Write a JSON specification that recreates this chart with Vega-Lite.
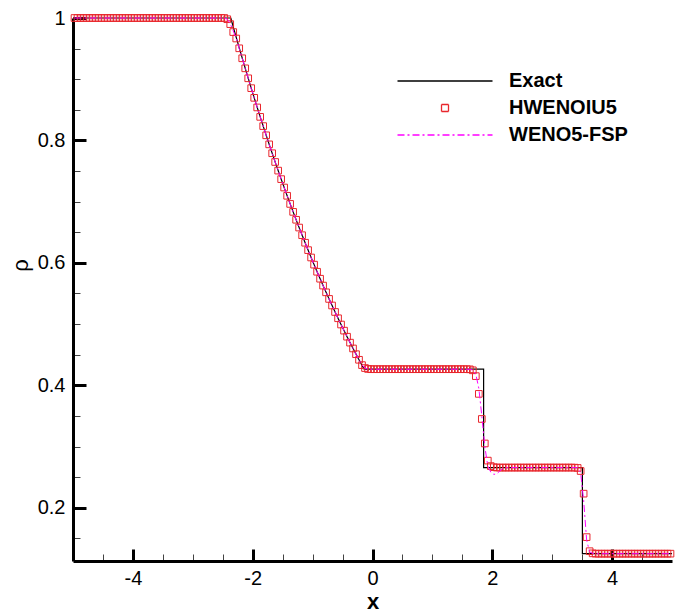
{
  "$schema": "https://vega.github.io/schema/vega-lite/v6.json",
  "width": 599,
  "height": 543,
  "autosize": {"type": "none"},
  "padding": {"left": 73, "top": 18, "right": 3, "bottom": 52},
  "background": "white",
  "config": {
    "view": {"stroke": null},
    "font": "Liberation Sans",
    "axis": {"grid": false, "domainColor": "black", "domainWidth": 3, "labelColor": "black", "titleColor": "black", "labelFont": "Liberation Sans", "titleFont": "Liberation Sans"},
    "legend": {"symbolSize": 100, "symbolStrokeWidth": 1.3, "labelFontSize": 20, "labelFontWeight": "bold", "labelFont": "Liberation Sans", "labelColor": "black", "rowPadding": 7, "labelOffset": 54, "padding": 0}
  },
  "datasets": {
    "exact": [
      {"i": 0, "x": -5, "rho": 1}, {"i": 1, "x": -2.366, "rho": 1}, {"i": 2, "x": -2.325, "rho": 0.9855},
      {"i": 3, "x": -2.225, "rho": 0.9512}, {"i": 4, "x": -2.125, "rho": 0.9179}, {"i": 5, "x": -2.025, "rho": 0.8854},
      {"i": 6, "x": -1.925, "rho": 0.8539}, {"i": 7, "x": -1.825, "rho": 0.8234}, {"i": 8, "x": -1.725, "rho": 0.7936},
      {"i": 9, "x": -1.625, "rho": 0.7648}, {"i": 10, "x": -1.525, "rho": 0.7368}, {"i": 11, "x": -1.425, "rho": 0.7096},
      {"i": 12, "x": -1.325, "rho": 0.6833}, {"i": 13, "x": -1.225, "rho": 0.6577}, {"i": 14, "x": -1.125, "rho": 0.6329},
      {"i": 15, "x": -1.025, "rho": 0.6088}, {"i": 16, "x": -0.925, "rho": 0.5855}, {"i": 17, "x": -0.825, "rho": 0.5629},
      {"i": 18, "x": -0.725, "rho": 0.5411}, {"i": 19, "x": -0.625, "rho": 0.5198}, {"i": 20, "x": -0.525, "rho": 0.4993},
      {"i": 21, "x": -0.425, "rho": 0.4794}, {"i": 22, "x": -0.325, "rho": 0.4602}, {"i": 23, "x": -0.225, "rho": 0.4416},
      {"i": 24, "x": -0.14, "rho": 0.4263}, {"i": 25, "x": 1.855, "rho": 0.4263}, {"i": 26, "x": 1.855, "rho": 0.2656},
      {"i": 27, "x": 3.504, "rho": 0.2656}, {"i": 28, "x": 3.504, "rho": 0.125}, {"i": 29, "x": 5, "rho": 0.125}
    ],
    "num": [
      {"x": -4.975, "h": 1, "w": 1}, {"x": -4.925, "h": 1, "w": 1}, {"x": -4.875, "h": 1, "w": 1}, {"x": -4.825, "h": 1, "w": 1},
      {"x": -4.775, "h": 1, "w": 1}, {"x": -4.725, "h": 1, "w": 1}, {"x": -4.675, "h": 1, "w": 1}, {"x": -4.625, "h": 1, "w": 1},
      {"x": -4.575, "h": 1, "w": 1}, {"x": -4.525, "h": 1, "w": 1}, {"x": -4.475, "h": 1, "w": 1}, {"x": -4.425, "h": 1, "w": 1},
      {"x": -4.375, "h": 1, "w": 1}, {"x": -4.325, "h": 1, "w": 1}, {"x": -4.275, "h": 1, "w": 1}, {"x": -4.225, "h": 1, "w": 1},
      {"x": -4.175, "h": 1, "w": 1}, {"x": -4.125, "h": 1, "w": 1}, {"x": -4.075, "h": 1, "w": 1}, {"x": -4.025, "h": 1, "w": 1},
      {"x": -3.975, "h": 1, "w": 1}, {"x": -3.925, "h": 1, "w": 1}, {"x": -3.875, "h": 1, "w": 1}, {"x": -3.825, "h": 1, "w": 1},
      {"x": -3.775, "h": 1, "w": 1}, {"x": -3.725, "h": 1, "w": 1}, {"x": -3.675, "h": 1, "w": 1}, {"x": -3.625, "h": 1, "w": 1},
      {"x": -3.575, "h": 1, "w": 1}, {"x": -3.525, "h": 1, "w": 1}, {"x": -3.475, "h": 1, "w": 1}, {"x": -3.425, "h": 1, "w": 1},
      {"x": -3.375, "h": 1, "w": 1}, {"x": -3.325, "h": 1, "w": 1}, {"x": -3.275, "h": 1, "w": 1}, {"x": -3.225, "h": 1, "w": 1},
      {"x": -3.175, "h": 1, "w": 1}, {"x": -3.125, "h": 1, "w": 1}, {"x": -3.075, "h": 1, "w": 1}, {"x": -3.025, "h": 1, "w": 1},
      {"x": -2.975, "h": 1, "w": 1}, {"x": -2.925, "h": 1, "w": 1}, {"x": -2.875, "h": 1, "w": 1}, {"x": -2.825, "h": 1, "w": 1},
      {"x": -2.775, "h": 1, "w": 1}, {"x": -2.725, "h": 1, "w": 1}, {"x": -2.675, "h": 1, "w": 1}, {"x": -2.625, "h": 1, "w": 1},
      {"x": -2.575, "h": 1, "w": 1}, {"x": -2.525, "h": 1, "w": 1}, {"x": -2.475, "h": 1, "w": 1},
      {"x": -2.425, "h": 0.998, "w": 0.998}, {"x": -2.375, "h": 0.99, "w": 0.991}, {"x": -2.325, "h": 0.977, "w": 0.979},
      {"x": -2.275, "h": 0.9665, "w": 0.9665}, {"x": -2.225, "h": 0.9505, "w": 0.9505}, {"x": -2.175, "h": 0.9342, "w": 0.9342},
      {"x": -2.125, "h": 0.9178, "w": 0.9178}, {"x": -2.075, "h": 0.9015, "w": 0.9015}, {"x": -2.025, "h": 0.8854, "w": 0.8854},
      {"x": -1.975, "h": 0.8696, "w": 0.8696}, {"x": -1.925, "h": 0.8539, "w": 0.8539}, {"x": -1.875, "h": 0.8385, "w": 0.8385},
      {"x": -1.825, "h": 0.8234, "w": 0.8234}, {"x": -1.775, "h": 0.8084, "w": 0.8084}, {"x": -1.725, "h": 0.7936, "w": 0.7936},
      {"x": -1.675, "h": 0.7791, "w": 0.7791}, {"x": -1.625, "h": 0.7648, "w": 0.7648}, {"x": -1.575, "h": 0.7507, "w": 0.7507},
      {"x": -1.525, "h": 0.7368, "w": 0.7368}, {"x": -1.475, "h": 0.7231, "w": 0.7231}, {"x": -1.425, "h": 0.7096, "w": 0.7096},
      {"x": -1.375, "h": 0.6963, "w": 0.6963}, {"x": -1.325, "h": 0.6833, "w": 0.6833}, {"x": -1.275, "h": 0.6704, "w": 0.6704},
      {"x": -1.225, "h": 0.6577, "w": 0.6577}, {"x": -1.175, "h": 0.6452, "w": 0.6452}, {"x": -1.125, "h": 0.6329, "w": 0.6329},
      {"x": -1.075, "h": 0.6208, "w": 0.6208}, {"x": -1.025, "h": 0.6088, "w": 0.6088}, {"x": -0.975, "h": 0.5971, "w": 0.5971},
      {"x": -0.925, "h": 0.5855, "w": 0.5855}, {"x": -0.875, "h": 0.5741, "w": 0.5741}, {"x": -0.825, "h": 0.5629, "w": 0.5629},
      {"x": -0.775, "h": 0.5519, "w": 0.5519}, {"x": -0.725, "h": 0.5411, "w": 0.5411}, {"x": -0.675, "h": 0.5304, "w": 0.5304},
      {"x": -0.625, "h": 0.5198, "w": 0.5198}, {"x": -0.575, "h": 0.5095, "w": 0.5095}, {"x": -0.525, "h": 0.4993, "w": 0.4993},
      {"x": -0.475, "h": 0.4893, "w": 0.4893}, {"x": -0.425, "h": 0.4794, "w": 0.4794}, {"x": -0.375, "h": 0.4697, "w": 0.4697},
      {"x": -0.325, "h": 0.4602, "w": 0.4602}, {"x": -0.275, "h": 0.4508, "w": 0.4508}, {"x": -0.225, "h": 0.4417, "w": 0.4417},
      {"x": -0.175, "h": 0.433, "w": 0.433}, {"x": -0.125, "h": 0.4282, "w": 0.4282}, {"x": -0.075, "h": 0.4267, "w": 0.4267},
      {"x": -0.025, "h": 0.4263, "w": 0.4263}, {"x": 0.025, "h": 0.4263, "w": 0.4263}, {"x": 0.075, "h": 0.4263, "w": 0.4263},
      {"x": 0.125, "h": 0.4263, "w": 0.4263}, {"x": 0.175, "h": 0.4263, "w": 0.4263}, {"x": 0.225, "h": 0.4263, "w": 0.4263},
      {"x": 0.275, "h": 0.4263, "w": 0.4263}, {"x": 0.325, "h": 0.4263, "w": 0.4263}, {"x": 0.375, "h": 0.4263, "w": 0.4263},
      {"x": 0.425, "h": 0.4263, "w": 0.4263}, {"x": 0.475, "h": 0.4263, "w": 0.4263}, {"x": 0.525, "h": 0.4263, "w": 0.4263},
      {"x": 0.575, "h": 0.4263, "w": 0.4263}, {"x": 0.625, "h": 0.4263, "w": 0.4263}, {"x": 0.675, "h": 0.4263, "w": 0.4263},
      {"x": 0.725, "h": 0.4263, "w": 0.4263}, {"x": 0.775, "h": 0.4263, "w": 0.4263}, {"x": 0.825, "h": 0.4263, "w": 0.4263},
      {"x": 0.875, "h": 0.4263, "w": 0.4263}, {"x": 0.925, "h": 0.4263, "w": 0.4263}, {"x": 0.975, "h": 0.4263, "w": 0.4263},
      {"x": 1.025, "h": 0.4263, "w": 0.4263}, {"x": 1.075, "h": 0.4263, "w": 0.4263}, {"x": 1.125, "h": 0.4263, "w": 0.4263},
      {"x": 1.175, "h": 0.4263, "w": 0.4263}, {"x": 1.225, "h": 0.4263, "w": 0.4263}, {"x": 1.275, "h": 0.4263, "w": 0.4263},
      {"x": 1.325, "h": 0.4263, "w": 0.4263}, {"x": 1.375, "h": 0.4263, "w": 0.4263}, {"x": 1.425, "h": 0.4263, "w": 0.4263},
      {"x": 1.475, "h": 0.4263, "w": 0.4263}, {"x": 1.525, "h": 0.4263, "w": 0.4263}, {"x": 1.575, "h": 0.4263, "w": 0.4262},
      {"x": 1.625, "h": 0.4261, "w": 0.4262},
      {"x": 1.675, "h": 0.4245, "w": 0.425}, {"x": 1.725, "h": 0.415, "w": 0.418}, {"x": 1.775, "h": 0.386, "w": 0.395},
      {"x": 1.825, "h": 0.345, "w": 0.35}, {"x": 1.875, "h": 0.305, "w": 0.3}, {"x": 1.925, "h": 0.277, "w": 0.268},
      {"x": 1.975, "h": 0.268, "w": 0.258}, {"x": 2.025, "h": 0.2662, "w": 0.2545}, {"x": 2.075, "h": 0.2657, "w": 0.2555},
      {"x": 2.125, "h": 0.2656, "w": 0.26}, {"x": 2.175, "h": 0.2656, "w": 0.264}, {"x": 2.225, "h": 0.2656, "w": 0.2656},
      {"x": 2.275, "h": 0.2656, "w": 0.2656}, {"x": 2.325, "h": 0.2656, "w": 0.2656}, {"x": 2.375, "h": 0.2656, "w": 0.2656},
      {"x": 2.425, "h": 0.2656, "w": 0.2656}, {"x": 2.475, "h": 0.2656, "w": 0.2656}, {"x": 2.525, "h": 0.2656, "w": 0.2656},
      {"x": 2.575, "h": 0.2656, "w": 0.2656}, {"x": 2.625, "h": 0.2656, "w": 0.2656}, {"x": 2.675, "h": 0.2656, "w": 0.2656},
      {"x": 2.725, "h": 0.2656, "w": 0.2656}, {"x": 2.775, "h": 0.2656, "w": 0.2656}, {"x": 2.825, "h": 0.2656, "w": 0.2656},
      {"x": 2.875, "h": 0.2656, "w": 0.2656}, {"x": 2.925, "h": 0.2656, "w": 0.2656}, {"x": 2.975, "h": 0.2656, "w": 0.2656},
      {"x": 3.025, "h": 0.2656, "w": 0.2656}, {"x": 3.075, "h": 0.2656, "w": 0.2656}, {"x": 3.125, "h": 0.2656, "w": 0.2656},
      {"x": 3.175, "h": 0.2656, "w": 0.2656}, {"x": 3.225, "h": 0.2656, "w": 0.2656}, {"x": 3.275, "h": 0.2656, "w": 0.2656},
      {"x": 3.325, "h": 0.2656, "w": 0.2656}, {"x": 3.375, "h": 0.2655, "w": 0.2656},
      {"x": 3.425, "h": 0.265, "w": 0.2655}, {"x": 3.475, "h": 0.26, "w": 0.257}, {"x": 3.525, "h": 0.223, "w": 0.212},
      {"x": 3.575, "h": 0.152, "w": 0.147}, {"x": 3.625, "h": 0.129, "w": 0.128}, {"x": 3.675, "h": 0.1255, "w": 0.1255},
      {"x": 3.725, "h": 0.125, "w": 0.125}, {"x": 3.775, "h": 0.125, "w": 0.125}, {"x": 3.825, "h": 0.125, "w": 0.125},
      {"x": 3.875, "h": 0.125, "w": 0.125}, {"x": 3.925, "h": 0.125, "w": 0.125}, {"x": 3.975, "h": 0.125, "w": 0.125},
      {"x": 4.025, "h": 0.125, "w": 0.125}, {"x": 4.075, "h": 0.125, "w": 0.125}, {"x": 4.125, "h": 0.125, "w": 0.125},
      {"x": 4.175, "h": 0.125, "w": 0.125}, {"x": 4.225, "h": 0.125, "w": 0.125}, {"x": 4.275, "h": 0.125, "w": 0.125},
      {"x": 4.325, "h": 0.125, "w": 0.125}, {"x": 4.375, "h": 0.125, "w": 0.125}, {"x": 4.425, "h": 0.125, "w": 0.125},
      {"x": 4.475, "h": 0.125, "w": 0.125}, {"x": 4.525, "h": 0.125, "w": 0.125}, {"x": 4.575, "h": 0.125, "w": 0.125},
      {"x": 4.625, "h": 0.125, "w": 0.125}, {"x": 4.675, "h": 0.125, "w": 0.125}, {"x": 4.725, "h": 0.125, "w": 0.125},
      {"x": 4.775, "h": 0.125, "w": 0.125}, {"x": 4.825, "h": 0.125, "w": 0.125}, {"x": 4.875, "h": 0.125, "w": 0.125},
      {"x": 4.925, "h": 0.125, "w": 0.125}, {"x": 4.975, "h": 0.125, "w": 0.125}
    ]
  },
  "encoding": {
    "x": {
      "field": "x", "type": "quantitative",
      "scale": {"domain": [-5, 5], "nice": false, "zero": false},
      "axis": {
        "title": "x", "titleFontSize": 22, "titleFontWeight": "bold", "titleY": 47, "titleBaseline": "alphabetic",
        "values": [-4.5, -4, -3.5, -3, -2.5, -2, -1.5, -1, -0.5, 0, 0.5, 1, 1.5, 2, 2.5, 3, 3.5, 4, 4.5],
        "labelExpr": "datum.value % 2 == 0 ? '' + datum.value : ''",
        "labelFontSize": 20, "labelPadding": 19, "labelFlush": false, "labelOverlap": false,
        "tickSize": -12,
        "tickDash": {"condition": {"test": "datum.value % 2 == 0", "value": [12, 0]}, "value": [7, 30]},
        "tickWidth": {"condition": {"test": "datum.value % 2 == 0", "value": 3}, "value": 1},
        "tickColor": {"condition": {"test": "datum.value % 2 == 0", "value": "black"}, "value": "#444444"}
      }
    },
    "y": {
      "type": "quantitative",
      "scale": {"domain": [0.113, 1], "nice": false, "zero": false},
      "axis": {
        "title": "ρ", "titleFontSize": 22, "titleFontWeight": "normal", "titleX": -41, "titleY": 247,
        "values": [0.15, 0.2, 0.25, 0.3, 0.35, 0.4, 0.45, 0.5, 0.55, 0.6, 0.65, 0.7, 0.75, 0.8, 0.85, 0.9, 0.95, 1],
        "labelExpr": "abs(datum.value*5 - round(datum.value*5)) < 0.001 ? (datum.value == 1 ? '1' : format(datum.value, '.1f')) : ''",
        "labelFontSize": 20, "labelPadding": 21, "labelFlush": false, "labelOverlap": false,
        "tickSize": -13,
        "tickDash": {"condition": {"test": "abs(datum.value*5 - round(datum.value*5)) < 0.001", "value": [13, 0]}, "value": [7, 30]},
        "tickWidth": {"condition": {"test": "abs(datum.value*5 - round(datum.value*5)) < 0.001", "value": 3}, "value": 1},
        "tickColor": {"condition": {"test": "abs(datum.value*5 - round(datum.value*5)) < 0.001", "value": "black"}, "value": "#444444"}
      }
    }
  },
  "layer": [
    {
      "data": {"name": "exact"},
      "mark": {"type": "line", "strokeWidth": 1.2},
      "encoding": {
        "y": {"field": "rho", "type": "quantitative"},
        "order": {"field": "i", "type": "quantitative"},
        "color": {"datum": "Exact", "type": "nominal",
          "scale": {"domain": ["Exact", "HWENOIU5", "WENO5-FSP"], "range": ["#000000", "#e8262c", "#ff00ff"]},
          "legend": {"title": null, "orient": "none", "legendX": 362, "legendY": 53}},
        "strokeDash": {"datum": "Exact", "type": "nominal",
          "scale": {"domain": ["Exact", "HWENOIU5", "WENO5-FSP"], "range": [[1, 0], [1, 0], [7, 3, 2, 3]]},
          "legend": {"title": null, "orient": "none", "legendX": 362, "legendY": 53}}
      }
    },
    {
      "data": {"name": "num"},
      "mark": {"type": "point", "filled": false, "size": 90, "strokeWidth": 1, "opacity": 1},
      "encoding": {
        "y": {"field": "h", "type": "quantitative"},
        "color": {"datum": "HWENOIU5", "type": "nominal"},
        "shape": {"datum": "HWENOIU5", "type": "nominal",
          "scale": {"domain": ["Exact", "HWENOIU5", "WENO5-FSP"], "range": ["M-9.5,0H9.5", "M-0.7,-0.7H0.7V0.7H-0.7Z", "M-9.5,0H9.5"]},
          "legend": {"title": null, "orient": "none", "legendX": 362, "legendY": 53}}
      }
    },
    {
      "data": {"name": "num"},
      "mark": {"type": "line", "strokeWidth": 1},
      "encoding": {
        "y": {"field": "w", "type": "quantitative"},
        "color": {"datum": "WENO5-FSP", "type": "nominal"},
        "strokeDash": {"datum": "WENO5-FSP", "type": "nominal"}
      }
    }
  ]
}
